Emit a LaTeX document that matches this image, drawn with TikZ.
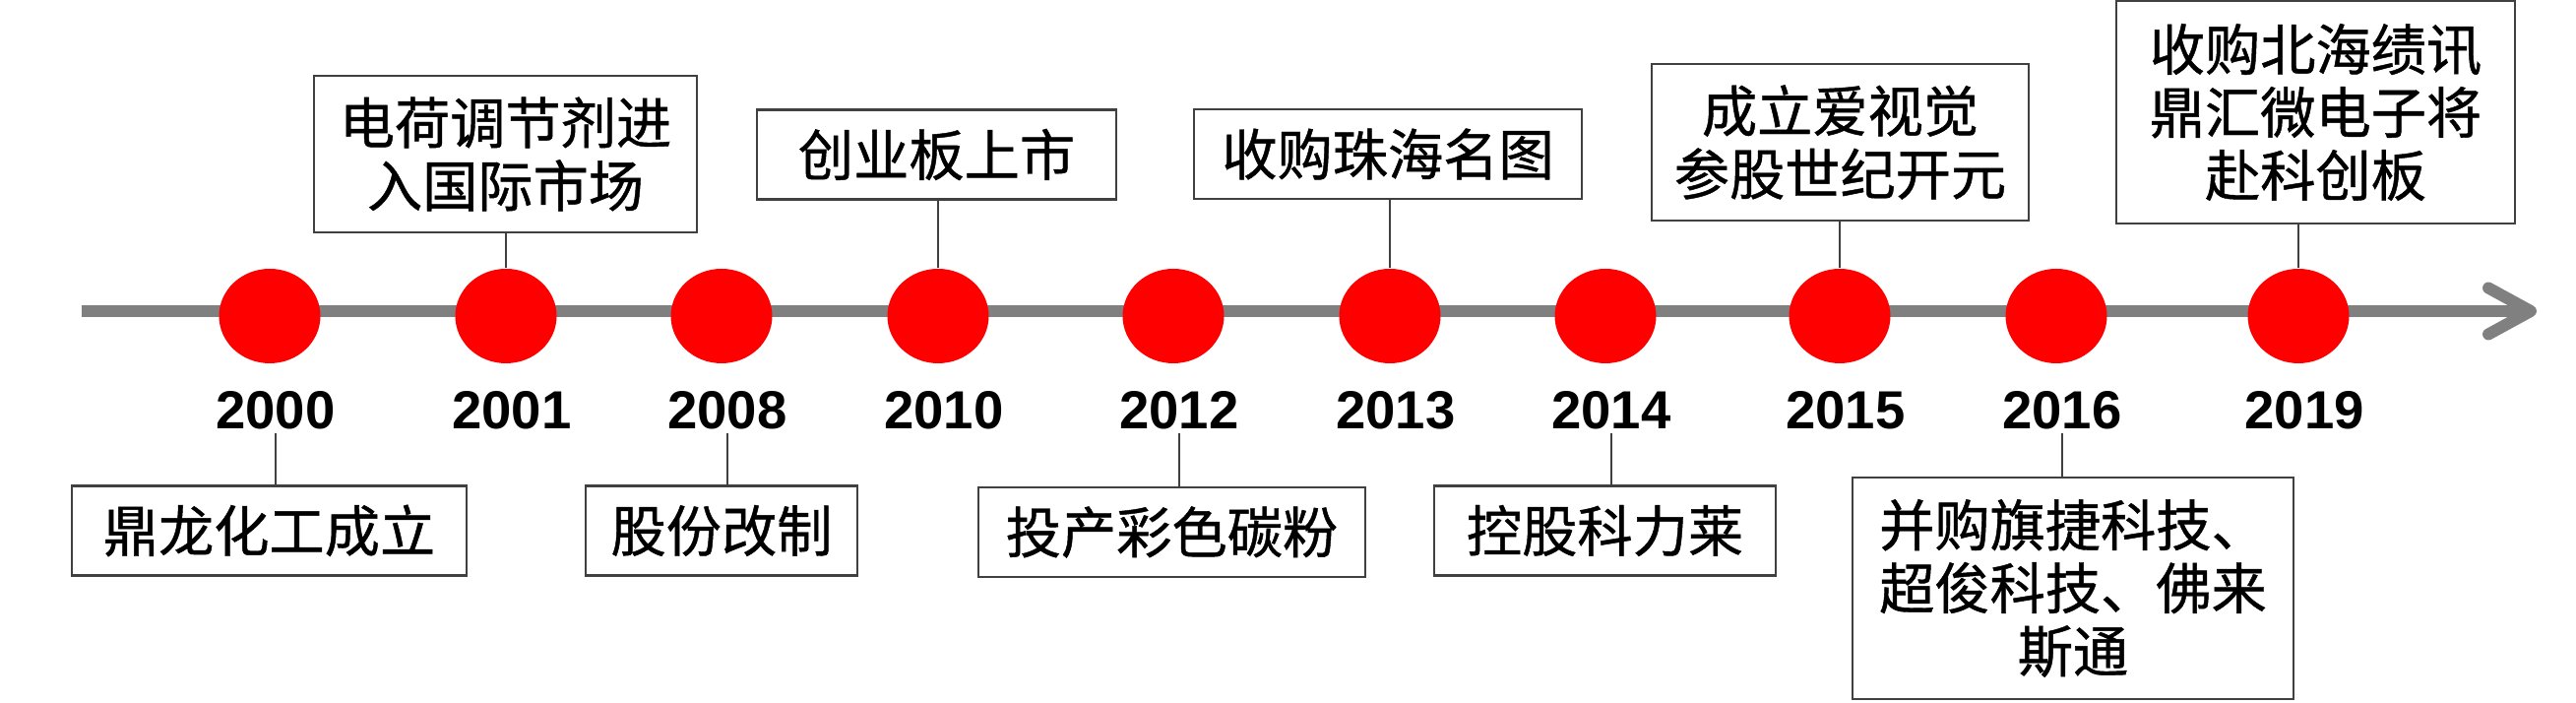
\documentclass[tikz,border=0pt]{standalone}
\usepackage{fontspec}
\setmainfont{Liberation Sans}
\newfontfamily\cjkfont{Noto Sans CJK SC}[FakeBold=0.8]
\usetikzlibrary{arrows.meta,positioning,shapes.geometric}
\definecolor{tlgray}{HTML}{808080}
\definecolor{tlred}{HTML}{FF0000}
\definecolor{tldark}{HTML}{404040}
\tikzset{
  axisline/.style={draw=tlgray,line width=3.4pt,-{Straight Barb[length=4.3mm,width=4.7mm,round]}},
  dot/.style={ellipse,fill=tlred,minimum width=10.3mm,minimum height=9.6mm,inner sep=0pt},
  yr/.style={font=\fontsize{15.5}{18}\selectfont\bfseries,inner sep=1pt},
  evt/.style={draw=tldark,line width=0.6pt,fill=white,align=center,inner sep=2pt,font=\cjkfont\fontsize{16}{18.2}\selectfont,minimum height=9.1mm},
  tall/.style={evt,minimum height=15.9mm},
  link/.style={draw=tldark,line width=0.4pt},
}
\begin{document}
\begin{tikzpicture}
  \useasboundingbox (0,0) rectangle (26.17,7.14);
  % time axis
  \coordinate (start) at (0.83,3.98);
  \coordinate (end) at (25.77,3.98);
  \draw[axisline] (start) -- (end);
  % red dots
  \node[dot] (d00) at (2.74,3.93) {};
  \node[dot] (d01) at (5.14,3.93) {};
  \node[dot] (d08) at (7.33,3.93) {};
  \node[dot] (d10) at (9.53,3.93) {};
  \node[dot] (d12) at (11.92,3.93) {};
  \node[dot] (d13) at (14.12,3.93) {};
  \node[dot] (d14) at (16.31,3.93) {};
  \node[dot] (d15) at (18.69,3.93) {};
  \node[dot] (d16) at (20.89,3.93) {};
  \node[dot] (d19) at (23.35,3.93) {};
  % years
  \node[yr,below=2.35mm of d00,xshift=0.6mm] (y00) {2000};
  \node[yr,below=2.35mm of d01,xshift=0.6mm] (y01) {2001};
  \node[yr,below=2.35mm of d08,xshift=0.6mm] (y08) {2008};
  \node[yr,below=2.35mm of d10,xshift=0.6mm] (y10) {2010};
  \node[yr,below=2.35mm of d12,xshift=0.6mm] (y12) {2012};
  \node[yr,below=2.35mm of d13,xshift=0.6mm] (y13) {2013};
  \node[yr,below=2.35mm of d14,xshift=0.6mm] (y14) {2014};
  \node[yr,below=2.35mm of d15,xshift=0.6mm] (y15) {2015};
  \node[yr,below=2.35mm of d16,xshift=0.6mm] (y16) {2016};
  \node[yr,below=2.35mm of d19,xshift=0.6mm] (y19) {2019};
  % events above the axis
  \node[tall,minimum width=38.9mm] (ev01) at (5.135,5.575) {电荷调节剂进\\入国际市场};
  \node[evt,minimum width=36.5mm] (ev10) at (9.515,5.57) {创业板上市};
  \node[evt,minimum width=39.4mm] (ev13) at (14.10,5.575) {收购珠海名图};
  \node[tall,minimum width=38.3mm] (ev15) at (18.695,5.695) {成立爱视觉\\参股世纪开元};
  \node[evt,minimum width=40.5mm,minimum height=22.6mm] (ev19) at (23.525,6.00) {收购北海绩讯\\鼎汇微电子将\\赴科创板};
  % events below the axis
  \node[evt,minimum width=40.1mm] (ev00) at (2.735,1.75) {鼎龙化工成立};
  \node[evt,minimum width=27.6mm] (ev08) at (7.33,1.75) {股份改制};
  \node[evt,minimum width=39.3mm] (ev12) at (11.905,1.735) {投产彩色碳粉};
  \node[evt,minimum width=34.7mm] (ev14) at (16.305,1.75) {控股科力莱};
  \node[evt,minimum width=44.8mm,minimum height=22.5mm] (ev16) at (21.06,1.165) {并购旗捷科技、\\超俊科技、佛来\\斯通};
  % links
  \draw[link] (d01.north) -- (d01.north |- ev01.south);
  \draw[link] (d10.north) -- (d10.north |- ev10.south);
  \draw[link] (d13.north) -- (d13.north |- ev13.south);
  \draw[link] (d15.north) -- (d15.north |- ev15.south);
  \draw[link] (d19.north) -- (d19.north |- ev19.south);
  \draw[link] (y00.south) -- (y00.south |- ev00.north);
  \draw[link] (y08.south) -- (y08.south |- ev08.north);
  \draw[link] (y12.south) -- (y12.south |- ev12.north);
  \draw[link] (y14.south) -- (y14.south |- ev14.north);
  \draw[link] (y16.south) -- (y16.south |- ev16.north);
\end{tikzpicture}
\end{document}
